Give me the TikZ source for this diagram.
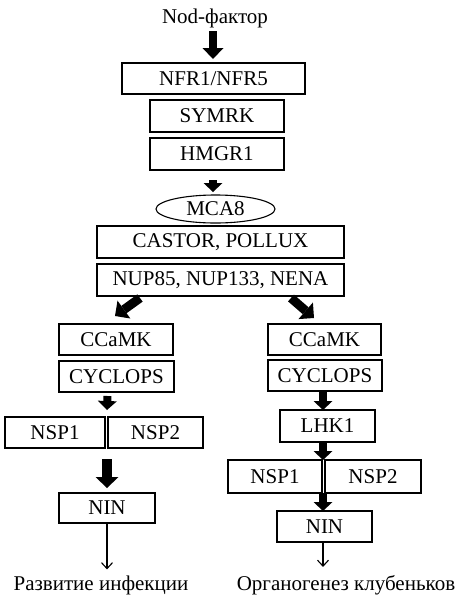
\documentclass[tikz,border=0pt]{standalone}
\usepackage{fontspec}
\setmainfont{Liberation Serif}
\usetikzlibrary{arrows.meta,shapes.geometric}
\begin{document}
\begin{tikzpicture}[x=1pt,y=-1pt,
  every node/.style={font=\fontsize{21}{24}\selectfont, inner sep=0pt, outer sep=0pt},
  box/.style={draw, line width=1.1pt, rectangle},
  lbl/.style={anchor=base},
  bigA/.style={line width=8pt, -{Triangle[width=21pt,length=11pt,line width=0pt]}},
  diagA/.style={line width=9pt, -{Triangle[width=22pt,length=11pt,line width=0pt]}},
  smallA/.style={line width=8pt, -{Triangle[width=19pt,length=9pt,line width=0pt]}},
  hugeA/.style={line width=10pt, -{Triangle[width=23pt,length=11pt,line width=0pt]}},
  thinA/.style={line width=1.1pt, -{Straight Barb[length=6pt,width=11pt,line width=1.1pt]}}
]
\useasboundingbox (0,0) rectangle (456,595);

\node[lbl] (nod) at (215,23) {Nod-фактор};
\node[box, minimum width=183pt, minimum height=31pt] (nfr) at (213.5,78.5) {NFR1/NFR5};
\node[box, minimum width=134pt, minimum height=32pt] (symrk) at (217,116) {SYMRK};
\node[box, minimum width=134pt, minimum height=32pt] (hmgr) at (217,154) {HMGR1};
\node[draw, line width=1.1pt, ellipse, minimum width=119pt, minimum height=28pt] (mca) at (215.5,209) {MCA8};
\node[box, minimum width=247pt, minimum height=32pt] (castor) at (220.5,242) {CASTOR, POLLUX};
\node[box, minimum width=247pt, minimum height=32pt] (nup) at (220.5,280) {NUP85, NUP133, NENA};

% left branch
\node[box, minimum width=114pt, minimum height=31pt] (lccamk) at (116,339.5) {CCaMK};
\node[box, minimum width=115pt, minimum height=31pt] (lcyc) at (116.5,376.5) {CYCLOPS};
\node[box, minimum width=100pt, minimum height=31pt] (lnspa) at (55,432.5) {NSP1};
\node[box, minimum width=95pt, minimum height=31pt] (lnspb) at (155.5,432.5) {NSP2};
\node[box, minimum width=96pt, minimum height=30pt] (lnin) at (107,508) {NIN};
\node[lbl] (ltext) at (101,590) {Развитие инфекции};

% right branch
\node[box, minimum width=113pt, minimum height=31pt] (rccamk) at (324.5,339.5) {CCaMK};
\node[box, minimum width=114pt, minimum height=31pt] (rcyc) at (325,375.5) {CYCLOPS};
\node[box, minimum width=95pt, minimum height=32pt] (lhk) at (327.5,426) {LHK1};
\node[box, minimum width=94pt, minimum height=33pt] (rnspa) at (275,476.5) {NSP1};
\node[box, minimum width=96pt, minimum height=33pt] (rnspb) at (373,476.5) {NSP2};
\node[box, minimum width=95pt, minimum height=31pt] (rnin) at (324.5,526.5) {NIN};
\node[lbl] (rtext) at (346,590) {Органогенез клубеньков};

% arrows
\draw[bigA] ([xshift=-2pt,yshift=-4pt]nod.south) -- ([xshift=-0.5pt,yshift=4pt]nfr.north);
\draw[smallA] ([xshift=-4pt,yshift=-10pt]hmgr.south) -- ([xshift=-2.5pt,yshift=3pt]mca.north);
\draw[diagA] ([xshift=-80.5pt,yshift=-2pt]nup.south) -- ([xshift=-1pt,yshift=8pt]lccamk.north);
\draw[diagA] ([xshift=70.5pt,yshift=-2pt]nup.south) -- ([xshift=-10.5pt,yshift=6pt]rccamk.north);

\draw[smallA] ([xshift=-9pt,yshift=-4pt]lcyc.south) -- ([xshift=2pt,yshift=7pt]lnspa.north east);
\draw[hugeA] ([xshift=2pt,yshift=-11pt]lnspa.south east) -- ([yshift=5pt]lnin.north);
\draw[thinA] (lnin.south) -- ([yshift=6pt]lnin.south |- ltext.north);

\draw[smallA] ([xshift=-2pt]rcyc.south) -- ([xshift=-4.5pt]lhk.north);
\draw[smallA] ([xshift=-4.5pt]lhk.south) -- ([xshift=1pt]rnspa.north east);
\draw[smallA] ([xshift=1pt]rnspa.south east) -- ([xshift=-1.5pt]rnin.north);
\draw[thinA] ([xshift=-1.5pt]rnin.south) -- ([xshift=-1.5pt,yshift=8pt]rnin.south |- rtext.north);
\end{tikzpicture}
\end{document}
